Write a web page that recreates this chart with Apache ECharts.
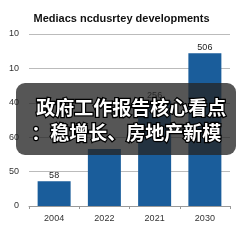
<!DOCTYPE html>
<html>
<head>
<meta charset="utf-8">
<script src="https://cdn.jsdelivr.net/npm/echarts@6/dist/echarts.min.js"></script>
<style>
  html, body { margin: 0; padding: 0; background: #fff; }
  #chart { width: 243px; height: 243px; }
</style>
</head>
<body>
<div id="chart"></div>
<script>
const years = ['2004', '2022', '2021', '2030'];
// bar heights, in axis units (top gridline = 250)
const barValues = [36, 83, 153, 222];
// printed labels above the bars (second one is hidden under the banner)
const barLabels = ['58', '', '256', '506'];
const yTickLabels = ['0', '50', '60', '40', '10', '10'];
const titleText = 'Mediacs ncdusrtey developments';
const bannerLines = ['政府工作报告核心看点', '：稳增长、房地产新模'];

const myChart = echarts.init(document.getElementById('chart'));

const option = {
  animation: false,
  title: {
    text: titleText,
    left: 'center',
    top: 8,
    textStyle: {
      fontFamily: 'Liberation Sans',
      fontSize: 11,
      fontWeight: 'bold',
      color: '#111'
    }
  },
  grid: {
    left: 29,
    right: 13,
    top: 34,
    bottom: 37
  },
  xAxis: {
    type: 'category',
    data: years,
    axisLine: { lineStyle: { color: '#999' } },
    axisTick: { show: true, length: 3, lineStyle: { color: '#999' } },
    axisLabel: {
      fontFamily: 'Liberation Sans',
      fontSize: 9,
      color: '#333',
      margin: 8
    }
  },
  yAxis: {
    type: 'value',
    min: 0,
    max: 250,
    interval: 50,
    axisLine: { show: false },
    axisTick: { show: false },
    splitLine: { lineStyle: { color: '#bbb' } },
    axisLabel: {
      fontFamily: 'Liberation Sans',
      fontSize: 9,
      color: '#333',
      margin: 10,
      formatter: (v) => yTickLabels[Math.round(v / 50)]
    }
  },
  series: [
    {
      type: 'bar',
      data: barValues,
      barWidth: 33,
      itemStyle: { color: '#1a5d9b' },
      label: {
        show: true,
        position: 'top',
        distance: 1,
        fontFamily: 'Liberation Sans',
        fontSize: 9,
        color: '#222',
        formatter: (p) => barLabels[p.dataIndex]
      }
    }
  ],
  graphic: [
    {
      type: 'rect',
      left: 16,
      top: 83,
      shape: { width: 220, height: 72, r: 9 },
      style: { fill: 'rgba(38,38,38,0.78)' },
      z: 100
    },
    {
      type: 'text',
      left: 35,
      top: 97,
      style: {
        text: bannerLines[0],
        fontFamily: 'Noto Sans CJK SC',
        fontWeight: 'bold',
        fontSize: 19,
        fill: '#fff',
        stroke: '#000',
        lineWidth: 2.5
      },
      z: 101
    },
    {
      type: 'text',
      left: 30,
      top: 122,
      style: {
        text: bannerLines[1],
        fontFamily: 'Noto Sans CJK SC',
        fontWeight: 'bold',
        fontSize: 19,
        fill: '#fff',
        stroke: '#000',
        lineWidth: 2.5
      },
      z: 101
    }
  ]
};

myChart.setOption(option);
</script>
</body>
</html>
